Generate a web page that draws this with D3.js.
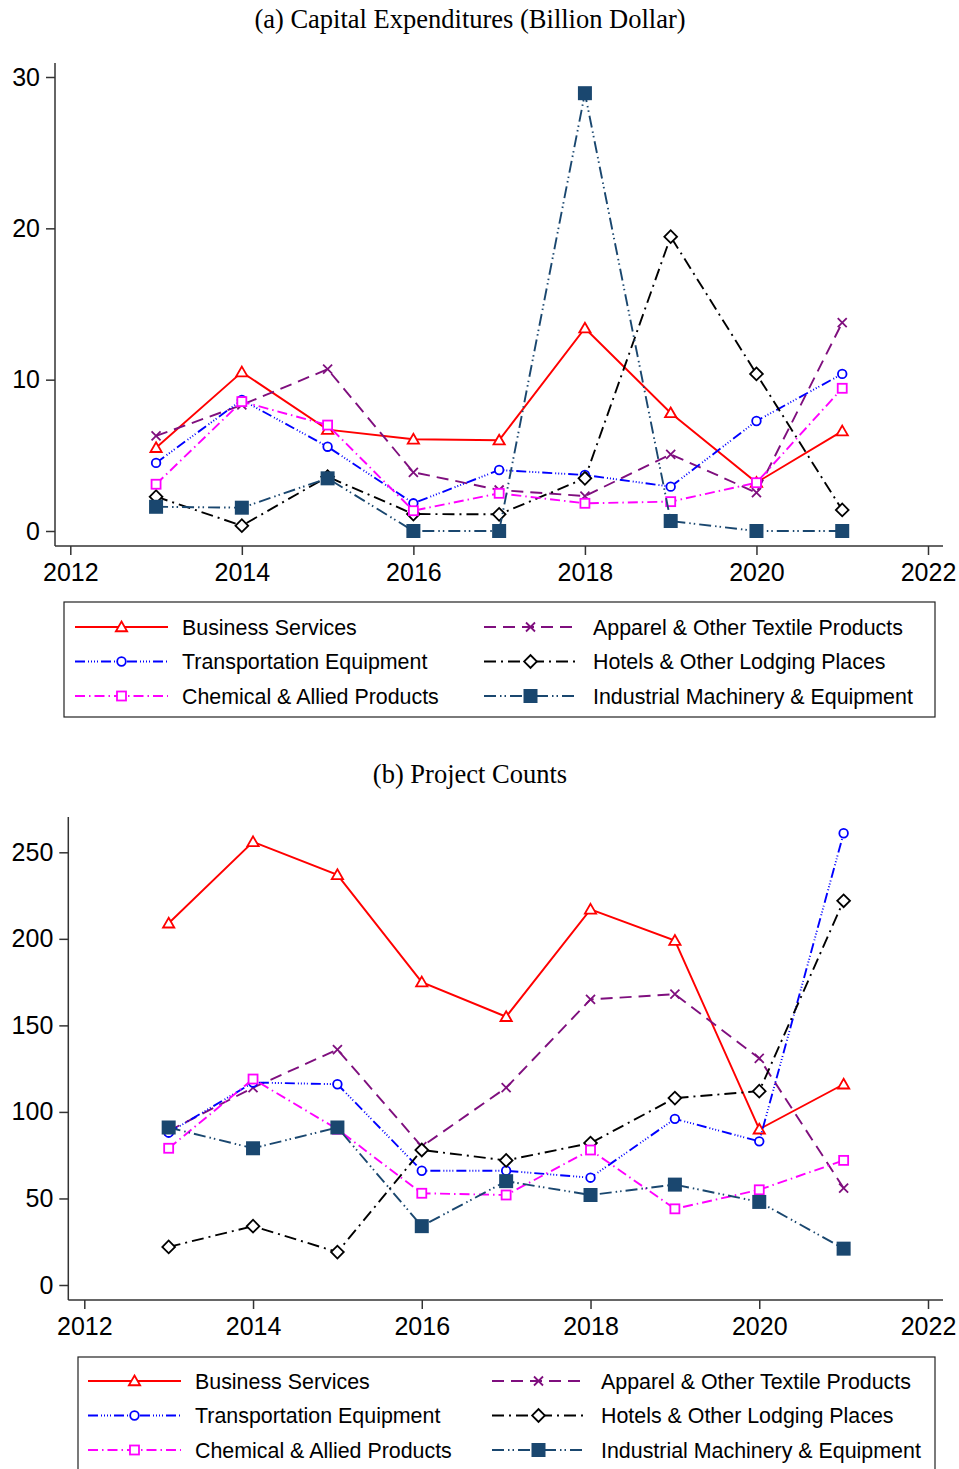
<!DOCTYPE html>
<html>
<head>
<meta charset="utf-8">
<script src="https://cdn.jsdelivr.net/npm/d3@7"></script>
<style>
  body { margin: 0; background: #fff; }
  svg { display: block; }
</style>
</head>
<body>
<div id="chart"></div>
<script>
// years shared by both panels
const years = [2013, 2014, 2015, 2016, 2017, 2018, 2019, 2020, 2021];

// (a) capital expenditures, billion dollar
const capexBusiness  = [5.5, 10.5, 6.7, 6.06, 6.0, 13.4, 7.8, 3.2, 6.6];
const capexTransport = [4.5, 8.66, 5.57, 1.83, 4.03, 3.7, 2.93, 7.27, 10.38];
const capexChemical  = [3.09, 8.55, 7.0, 1.34, 2.49, 1.83, 1.94, 3.19, 9.43];
const capexApparel   = [6.28, 8.33, 10.69, 3.88, 2.71, 2.31, 5.07, 2.53, 13.77];
const capexHotels    = [2.27, 0.35, 3.59, 1.12, 1.1, 3.48, 19.45, 10.38, 1.39];
const capexMachinery = [1.6, 1.54, 3.48, 0, 0, 28.93, 0.66, 0, 0];

// (b) project counts
const countBusiness  = [209, 256, 237, 175, 155, 217, 199, 90, 116];
const countTransport = [88, 117, 116, 66, 66, 62, 96, 83, 261];
const countChemical  = [79, 119, 90, 53, 52, 78, 44, 55, 72];
const countApparel   = [89, 114, 136, 80, 114, 165, 168, 131, 56];
const countHotels    = [22, 34, 19, 78, 72, 82, 108, 112, 222];
const countMachinery = [91, 79, 91, 34, 60, 52, 58, 48, 21];

const xTicks = [2012, 2014, 2016, 2018, 2020, 2022];
const capexTicks = [0, 10, 20, 30];
const countTicks = [0, 50, 100, 150, 200, 250];

const seriesNames = [
  "Business Services", "Apparel & Other Textile Products",
  "Transportation Equipment", "Hotels & Other Lodging Places",
  "Chemical & Allied Products", "Industrial Machinery & Equipment"
];

// styles, Stata-like (draw order = legend row order)
const styles = [
  { color: "#ff0000", dash: null,                         marker: "triangle" },
  { color: "#7f0f7e", dash: "12,7",                       marker: "x" },
  { color: "#0000ff", dash: "10,3,1,2,1,2,1,2,1,3",       marker: "circle" },
  { color: "#000000", dash: "12,5,2,5",                   marker: "diamond" },
  { color: "#ff00ff", dash: "10,4,1.5,4",                 marker: "square" },
  { color: "#1a476f", dash: "12,4,1.5,3,1.5,4",           marker: "fsquare" }
];

const W = 959, H = 1469;
const svg = d3.select("#chart").append("svg")
  .attr("width", W).attr("height", H);

const sansFont = "'Liberation Sans', Arial, Helvetica, sans-serif";
const serifFont = "'Liberation Serif', 'Times New Roman', serif";

function drawMarker(g, type, color, cx, cy) {
  if (type === "circle") {
    g.append("circle").attr("cx", cx).attr("cy", cy).attr("r", 4.3)
      .attr("fill", "#fff").attr("stroke", color).attr("stroke-width", 1.8);
  } else if (type === "triangle") {
    g.append("path").attr("transform", `translate(${cx},${cy + 1})`)
      .attr("d", d3.symbol(d3.symbolTriangle, 55)())
      .attr("fill", "#fff").attr("stroke", color).attr("stroke-width", 1.8);
  } else if (type === "square") {
    g.append("rect").attr("x", cx - 4.5).attr("y", cy - 4.5)
      .attr("width", 9).attr("height", 9)
      .attr("fill", "#fff").attr("stroke", color).attr("stroke-width", 1.8);
  } else if (type === "fsquare") {
    g.append("rect").attr("x", cx - 7).attr("y", cy - 7)
      .attr("width", 14).attr("height", 14)
      .attr("fill", color);
  } else if (type === "diamond") {
    g.append("rect").attr("x", -4.5).attr("y", -4.5)
      .attr("width", 9).attr("height", 9)
      .attr("transform", `translate(${cx},${cy}) rotate(45)`)
      .attr("fill", "#fff").attr("stroke", color).attr("stroke-width", 1.8);
  } else if (type === "x") {
    g.append("path").attr("transform", `translate(${cx},${cy})`)
      .attr("d", "M-4.5,-4.5L4.5,4.5M-4.5,4.5L4.5,-4.5")
      .attr("fill", "none").attr("stroke", color).attr("stroke-width", 1.8);
  }
}

function drawPanel(cfg) {
  const g = svg.append("g");

  // title
  g.append("text")
    .attr("x", 470).attr("y", cfg.titleY)
    .attr("text-anchor", "middle")
    .style("font-family", serifFont)
    .style("font-size", "26.5px")
    .attr("fill", "#000")
    .text(cfg.title);

  const x = d3.scaleLinear().domain([2012, 2022]).range(cfg.xRange);
  const y = d3.scaleLinear().domain(cfg.yDomain).range(cfg.yRange);

  // y axis
  g.append("g")
    .attr("transform", `translate(${cfg.axisLeft},0)`)
    .call(d3.axisLeft(y).tickValues(cfg.yTicks).tickSize(9).tickPadding(6).tickSizeOuter(0))
    .call(a => {
      a.select(".domain").remove();
      a.selectAll(".tick line").attr("stroke", "#333").attr("stroke-width", 1.5);
      a.selectAll("text").attr("fill", "#000")
        .style("font-family", sansFont).style("font-size", "25px");
    });
  g.append("line")
    .attr("x1", cfg.axisLeft).attr("x2", cfg.axisLeft)
    .attr("y1", cfg.axisTop).attr("y2", cfg.axisBottom)
    .attr("stroke", "#333").attr("stroke-width", 1.5);

  // x axis
  g.append("g")
    .attr("transform", `translate(0,${cfg.axisBottom})`)
    .call(d3.axisBottom(x).tickValues(xTicks).tickFormat(d3.format("d"))
      .tickSize(9).tickPadding(8).tickSizeOuter(0))
    .call(a => {
      a.select(".domain").remove();
      a.selectAll(".tick line").attr("stroke", "#333").attr("stroke-width", 1.5);
      a.selectAll("text").attr("fill", "#000")
        .style("font-family", sansFont).style("font-size", "25px");
    });
  g.append("line")
    .attr("x1", cfg.axisLeft).attr("x2", cfg.axisRight)
    .attr("y1", cfg.axisBottom).attr("y2", cfg.axisBottom)
    .attr("stroke", "#333").attr("stroke-width", 1.5);

  // series
  const line = d3.line().x(d => x(d[0])).y(d => y(d[1]));
  cfg.series.forEach((vals, i) => {
    const st = styles[i];
    const pts = years.map((yr, k) => [yr, vals[k]]);
    g.append("path")
      .datum(pts)
      .attr("d", line)
      .attr("fill", "none")
      .attr("stroke", st.color)
      .attr("stroke-width", 1.9)
      .attr("stroke-dasharray", st.dash);
    const mg = g.append("g");
    pts.forEach(p => drawMarker(mg, st.marker, st.color, x(p[0]), y(p[1])));
  });

  // legend
  const L = cfg.legend;
  g.append("rect")
    .attr("x", L.x).attr("y", L.y)
    .attr("width", L.w).attr("height", L.h)
    .attr("fill", "#fff").attr("stroke", "#222").attr("stroke-width", 1.2);
  seriesNames.forEach((name, i) => {
    const st = styles[i];
    const col = i % 2, row = Math.floor(i / 2);
    const lx = L.cols[col];
    const ly = L.y + L.row0 + row * L.rowGap;
    g.append("line")
      .attr("x1", lx).attr("x2", lx + 93)
      .attr("y1", ly).attr("y2", ly)
      .attr("stroke", st.color).attr("stroke-width", 1.9)
      .attr("stroke-dasharray", st.dash);
    drawMarker(g, st.marker, st.color, lx + 46.5, ly);
    g.append("text")
      .attr("x", lx + 107 + col * 2).attr("y", ly)
      .attr("dy", "0.36em")
      .style("font-family", sansFont)
      .style("font-size", "21.4px")
      .attr("fill", "#000")
      .text(name);
  });
}

drawPanel({
  title: "(a) Capital Expenditures (Billion Dollar)",
  titleY: 28,
  xRange: [70.3, 928],
  yDomain: [0, 30], yRange: [531, 77],
  yTicks: capexTicks,
  axisLeft: 55, axisRight: 943, axisTop: 63, axisBottom: 546,
  series: [capexBusiness, capexApparel, capexTransport, capexHotels, capexChemical, capexMachinery],
  legend: { x: 64, y: 602, w: 871, h: 115, row0: 25, rowGap: 34.5, cols: [75, 484] }
});

drawPanel({
  title: "(b) Project Counts",
  titleY: 783,
  xRange: [84.3, 928],
  yDomain: [0, 250], yRange: [1285, 852.3],
  yTicks: countTicks,
  axisLeft: 68.3, axisRight: 943, axisTop: 817, axisBottom: 1300,
  series: [countBusiness, countApparel, countTransport, countHotels, countChemical, countMachinery],
  legend: { x: 78, y: 1357, w: 857, h: 130, row0: 24, rowGap: 34.5, cols: [88, 492] }
});
</script>
</body>
</html>
